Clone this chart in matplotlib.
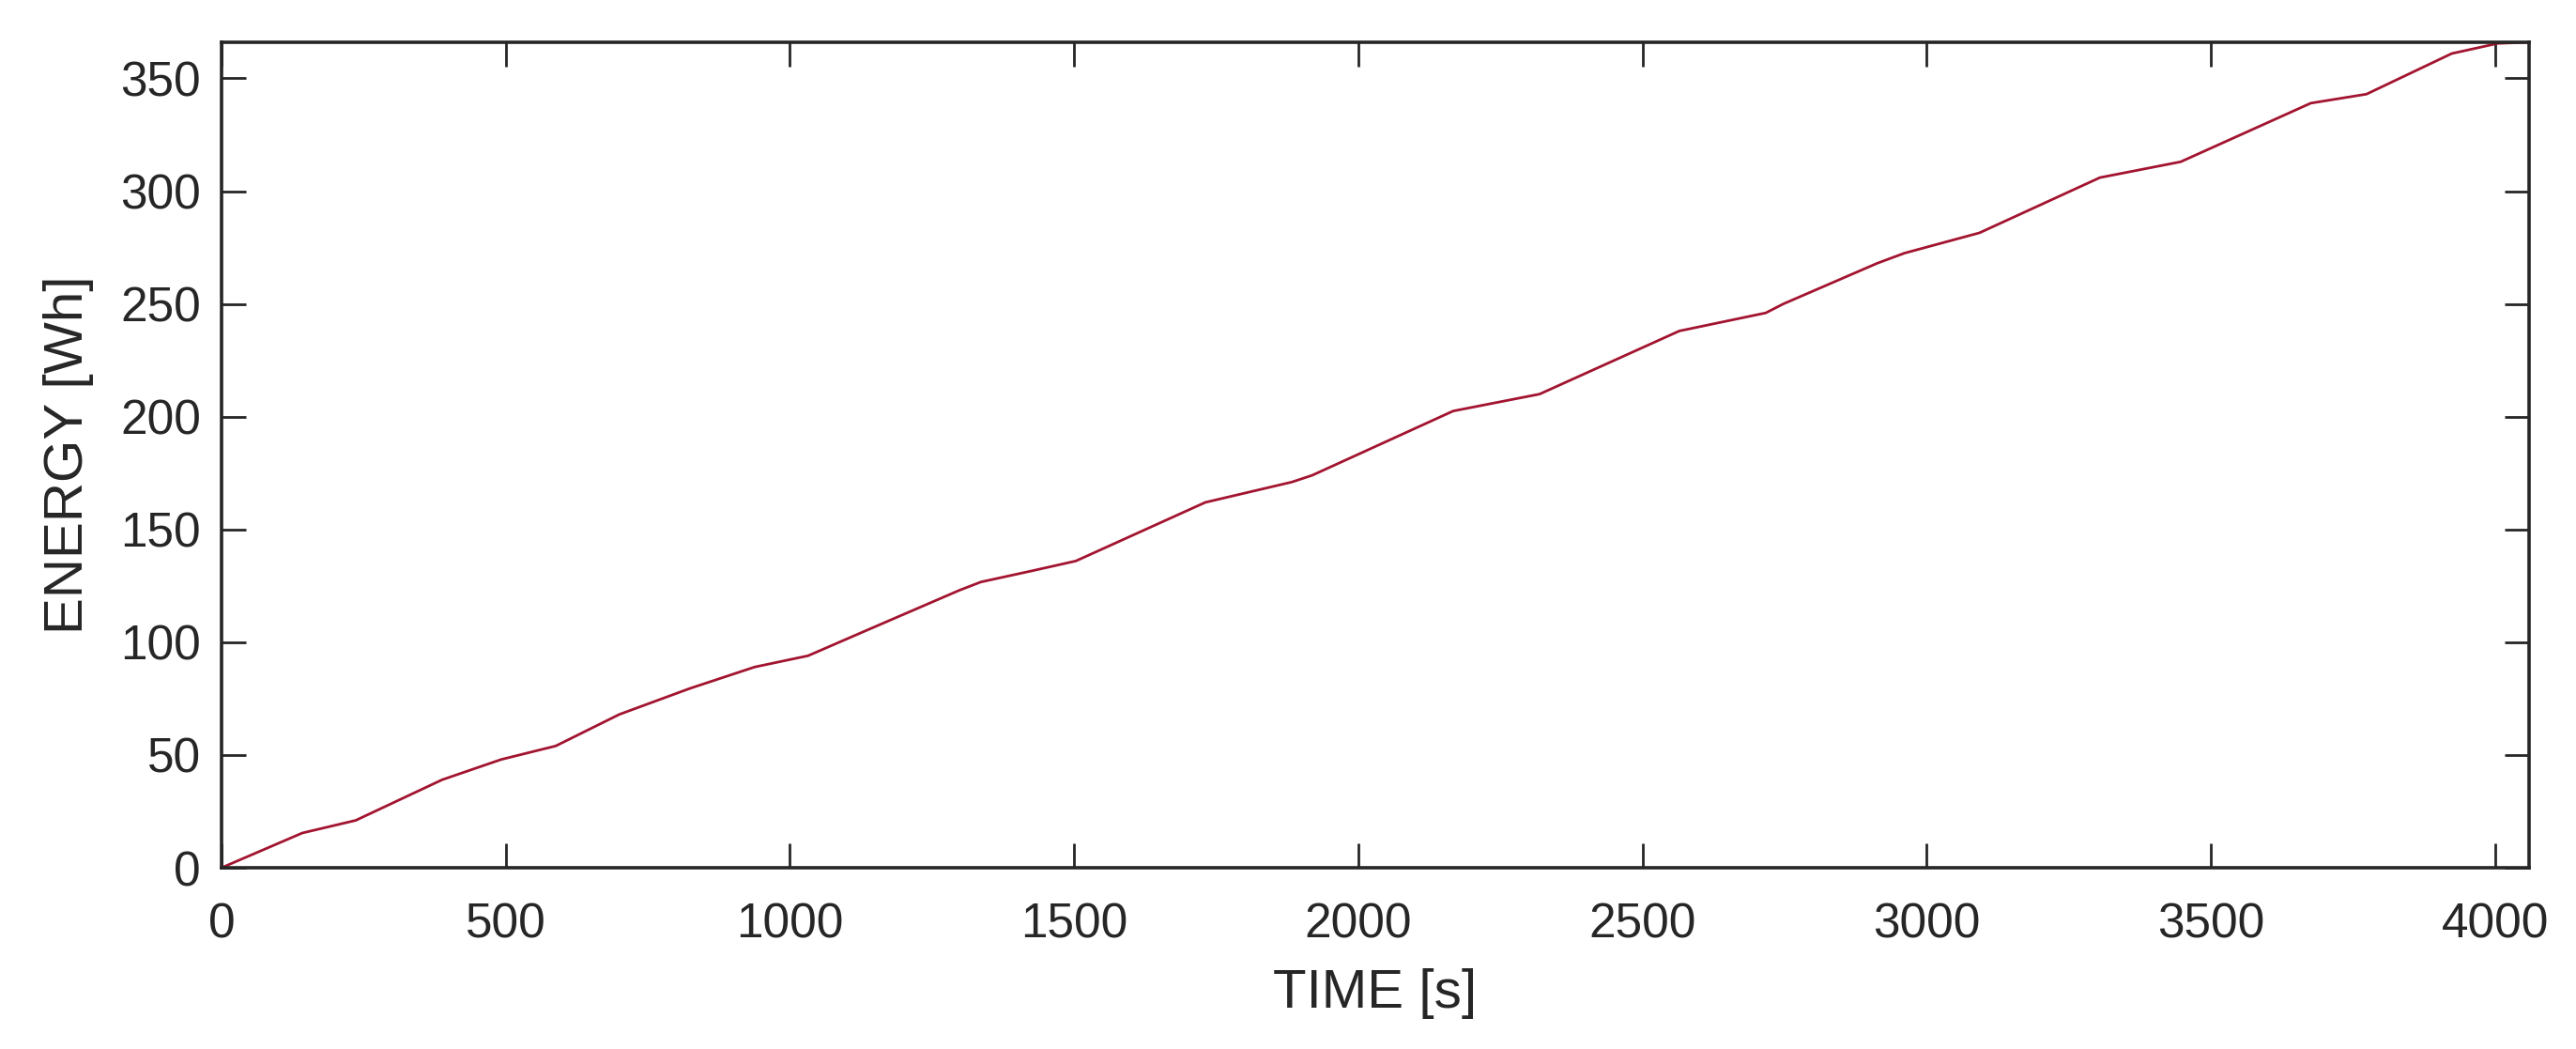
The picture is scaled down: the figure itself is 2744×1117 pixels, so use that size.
import matplotlib
matplotlib.use("Agg")
import matplotlib.pyplot as plt

time_s = [0, 142, 236, 388, 492, 588, 700, 824, 938, 1032, 1128, 1298, 1336, 1427,
          1503, 1731, 1883, 1919, 2167, 2319, 2565, 2717, 2748, 2913, 2961, 3093,
          3305, 3447, 3676, 3774, 3924, 4005, 4058]
energy_wh = [0, 15.4, 21, 39, 48, 54, 68, 79.5, 89, 94, 104.5, 123, 126.7, 131.7,
             136, 162, 171, 174, 202.5, 210, 238, 246, 250, 268, 272.5, 281.5,
             306, 313, 339, 343, 361, 365.5, 366]
xticks = [0, 500, 1000, 1500, 2000, 2500, 3000, 3500, 4000]
yticks = [0, 50, 100, 150, 200, 250, 300, 350]

plt.rcParams['font.family'] = ['Liberation Sans', 'DejaVu Sans']

W, H = 2744, 1117
fig = plt.figure(figsize=(W / 100, H / 100), dpi=100)
x0, x1, y0, y1 = 236, 2694, 45, 924
ax = fig.add_axes([x0 / W, 1 - y1 / H, (x1 - x0) / W, (y1 - y0) / H])

ax.plot(time_s, energy_wh, color='#A2142F', lw=2.0, solid_joinstyle='round')

ax.set_xlim(0, 4060)
ax.set_ylim(0, 366)
ax.set_xticks(xticks)
ax.set_yticks(yticks)
ax.tick_params(direction='in', length=18.5, width=2.0, top=True, right=True,
               labelsize=37, colors='#262626')
ax.tick_params(axis='x', pad=26)
ax.tick_params(axis='y', pad=16)
for s in ax.spines.values():
    s.set_linewidth(2.6)
    s.set_color('#262626')

ax.set_xlabel('TIME [s]', fontsize=42, color='#262626')
ax.set_ylabel('ENERGY [Wh]', fontsize=42, color='#262626')
ax.xaxis.set_label_coords(0.5, -(1031 - y1) / (y1 - y0))
ax.yaxis.set_label_coords(-(x0 - 100) / (x1 - x0), 0.5)

fig.savefig('out.png', dpi=100, facecolor='white')
